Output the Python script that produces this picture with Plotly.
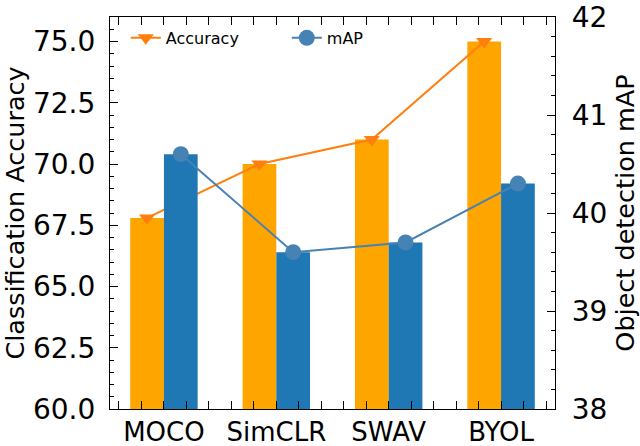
import numpy as np
import plotly.graph_objects as go

methods = ["MOCO", "SimCLR", "SWAV", "BYOL"]
accuracy = [67.8, 70.0, 71.0, 75.0]
map_vals = [40.6, 39.6, 39.7, 40.3]

idx = np.arange(len(methods))
bw = 0.3
FONT = "DejaVu Sans"

fig = go.Figure()
fig.add_trace(go.Bar(x=idx - bw / 2, y=accuracy, width=bw, marker=dict(color="#FFA500", line=dict(width=0)),
                     showlegend=False, xaxis="x", yaxis="y"))
fig.add_trace(go.Scatter(x=idx - bw / 2, y=accuracy, mode="lines+markers", name="Accuracy",
                         line=dict(color="#ff7f0e", width=2),
                         marker=dict(symbol="triangle-down", size=14, color="#ff7f0e"),
                         xaxis="x", yaxis="y"))
fig.add_trace(go.Bar(x=idx + bw / 2, y=map_vals, width=bw, marker=dict(color="#1f77b4", line=dict(width=0)),
                     showlegend=False, xaxis="x", yaxis="y2"))
fig.add_trace(go.Scatter(x=idx + bw / 2, y=map_vals, mode="lines+markers", name="mAP",
                         line=dict(color="#4682b4", width=2),
                         marker=dict(symbol="circle", size=16, color="#4682b4"),
                         xaxis="x", yaxis="y2"))

axcommon = dict(showgrid=False, zeroline=False, showline=True, linecolor="black", linewidth=1.2,
                ticks="inside", tickcolor="black", tickwidth=1.2, automargin=False,
                ticklabeloverflow="allow")
tickf = dict(family=FONT, size=28, color="black")
titlef = dict(family=FONT, size=25.5, color="black")

fig.update_layout(
    width=640, height=446,
    margin=dict(l=110, r=85, t=17, b=37),
    paper_bgcolor="white", plot_bgcolor="white",
    font=dict(family=FONT, color="black"),
    barmode="overlay",
    xaxis=dict(**axcommon, range=[-0.48, 3.48], tickmode="array", tickvals=list(idx), ticktext=methods,
               ticklen=8, mirror="allticks", ticklabelstandoff=0,
               tickfont=dict(family=FONT, size=26, color="black"),
               minor=dict(tickmode="linear", tick0=0, dtick=0.2, ticks="inside", ticklen=4,
                          tickcolor="black", tickwidth=1)),
    yaxis=dict(**axcommon, range=[60, 76], dtick=2.5, tick0=60, tickformat=".1f", ticklen=8,
               mirror=True, ticklabelstandoff=8, tickfont=tickf,
               minor=dict(dtick=0.5, ticks="inside", ticklen=4, tickcolor="black", tickwidth=1),
               title=dict(text="Classification Accuracy", font=titlef, standoff=8)),
    yaxis2=dict(**axcommon, overlaying="y", side="right", range=[38, 42], dtick=1, tick0=38, ticklen=8,
                ticklabelstandoff=10, tickfont=tickf,
                minor=dict(dtick=0.2, ticks="inside", ticklen=4, tickcolor="black", tickwidth=1),
                title=dict(text="Object detection mAP", font=titlef, standoff=10)),
    legend=dict(orientation="h", x=0.0355, y=0.99, xanchor="left", yanchor="top",
                bgcolor="rgba(0,0,0,0)", font=dict(family=FONT, size=16, color="black"),
                entrywidth=116, entrywidthmode="pixels"),
)

fig.write_html("out.html", config={"displayModeBar": False},
               post_script="document.body.style.margin='0';")
